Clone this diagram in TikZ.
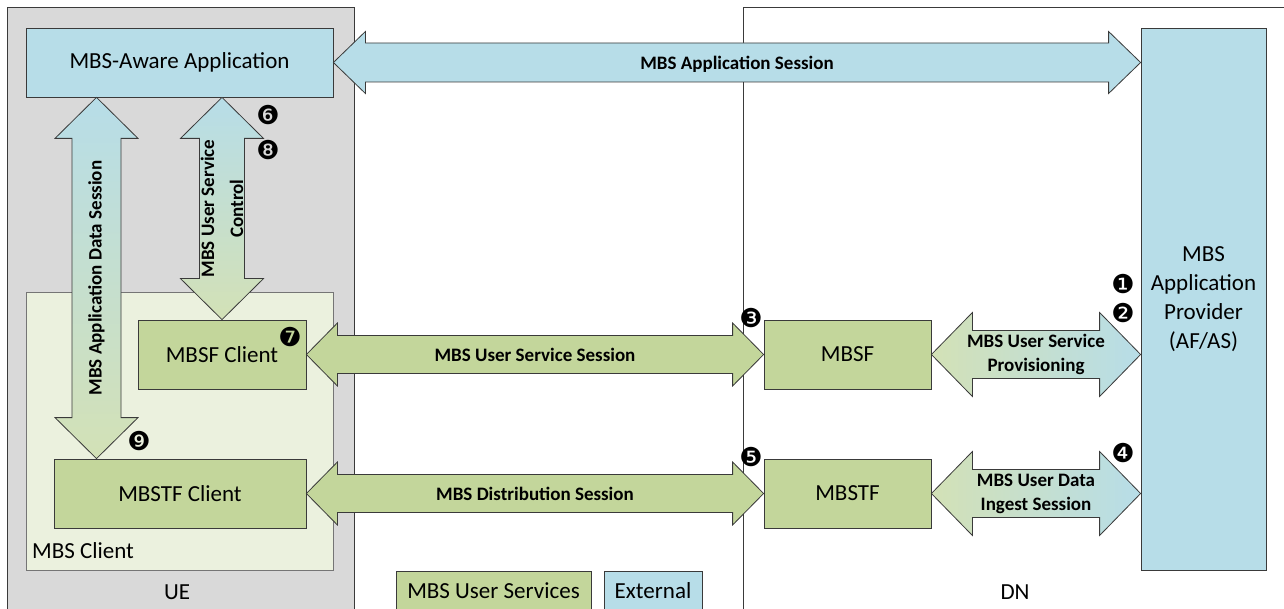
\documentclass[tikz,border=0pt]{standalone}
\usepackage{fontspec}
\setmainfont{Carlito}
\newfontfamily\badgefont{DejaVu Sans}
\usetikzlibrary{calc}
\definecolor{ueGray}{HTML}{D9D9D9}
\definecolor{extBlue}{HTML}{B7DDE8}
\definecolor{usGreen}{HTML}{C3D69B}
\definecolor{clientGreen}{HTML}{EBF1DE}
\definecolor{gradGreen}{HTML}{D3E1B6}
\definecolor{edgeCol}{HTML}{3A3A3A}
\tikzset{
  box/.style={draw=edgeCol, line width=0.8pt, inner sep=0pt, font=\fontsize{23}{29}\selectfont, align=center},
  bluebox/.style={box, fill=extBlue},
  greenbox/.style={box, fill=usGreen},
  lbl/.style={font=\bfseries\fontsize{19}{24}\selectfont, align=center, inner sep=0pt},
  plain/.style={font=\fontsize{23}{29}\selectfont, inner sep=0pt},
  badge/.style={font=\badgefont\fontsize{26}{26}\selectfont, inner sep=0pt},
  arrowline/.style={draw=edgeCol, line width=0.8pt, line join=miter},
}
% horizontal block double arrow: #1 start, #2 end, #3 shaft half, #4 head half, #5 head length, #6 style
\newcommand\hdbl[6]{%
  \path[#6] let \p1=#1, \p2=#2 in
    (\x1,\y1) -- (\x1+#5,\y1+#4) -- (\x1+#5,\y1+#3) -- (\x2-#5,\y1+#3) -- (\x2-#5,\y1+#4)
    -- (\x2,\y1) -- (\x2-#5,\y1-#4) -- (\x2-#5,\y1-#3) -- (\x1+#5,\y1-#3) -- (\x1+#5,\y1-#4) -- cycle;}
% vertical block double arrow: #1 top, #2 bottom
\newcommand\vdbl[6]{%
  \path[#6] let \p1=#1, \p2=#2 in
    (\x1,\y1) -- (\x1+#4,\y1-#5) -- (\x1+#3,\y1-#5) -- (\x1+#3,\y2+#5) -- (\x1+#4,\y2+#5)
    -- (\x1,\y2) -- (\x1-#4,\y2+#5) -- (\x1-#3,\y2+#5) -- (\x1-#3,\y1-#5) -- (\x1-#4,\y1-#5) -- cycle;}
\begin{document}
\begin{tikzpicture}[x=1pt,y=-1pt]
\useasboundingbox (0,0) rectangle (1284,609);
\clip (0,0) rectangle (1284,609);
\fill[white] (0,0) rectangle (1284,609);
% containers
\draw[draw=edgeCol, line width=0.8pt, fill=ueGray] (7,7) rectangle (354,620);
\draw[draw=edgeCol, line width=0.8pt] (743,7) rectangle (1300,620);
\draw[draw=edgeCol!70, line width=0.8pt, fill=clientGreen] (26,292) rectangle (333,570);
% nodes
\node[bluebox, minimum width=307pt, minimum height=69pt] (aware) at (179.5,62.5) {MBS-Aware Application};
\node[bluebox, minimum width=125pt, minimum height=542pt] (prov) at (1203.5,299) {MBS\\Application\\Provider\\(AF/AS)};
\node[greenbox, minimum width=168pt, minimum height=69pt] (sfc) at (222,354.5) {MBSF Client};
\node[greenbox, minimum width=252pt, minimum height=69pt] (stfc) at (180,493.5) {MBSTF Client};
\node[greenbox, minimum width=167pt, minimum height=69pt] (mbsf) at (847.5,354.5) {MBSF};
\node[greenbox, minimum width=167pt, minimum height=69pt] (mbstf) at (847.5,493.5) {MBSTF};
\node[greenbox, minimum width=195pt, minimum height=40pt] (legUS) at (493.5,591) {MBS User Services};
\node[bluebox, minimum width=98pt, minimum height=40pt] (legExt) at (653,591) {External};
\node[plain, anchor=west] (clientLbl) at (32,551) {MBS Client};
\node[plain] (ueLbl) at (177,592) {UE};
\node[plain] (dnLbl) at (1015,592) {DN};
% helper coordinates for vertical arrows
\coordinate (dsx) at (96.5,0);
% arrows
\hdbl{(aware.east)}{(aware.east -| prov.west)}{19.5pt}{31pt}{32pt}{arrowline, fill=extBlue}
\node[lbl] (appSessLbl) at ($(aware.east)!0.5!(aware.east -| prov.west)+(0,1.5)$) {MBS Application Session};
\hdbl{(sfc.east)}{(mbsf.west)}{19pt}{31.5pt}{31pt}{arrowline, fill=usGreen}
\node[lbl] (ussLbl) at ($(sfc.east)!0.5!(mbsf.west)$) {MBS User Service Session};
\hdbl{(stfc.east)}{(mbstf.west)}{19pt}{31.5pt}{31pt}{arrowline, fill=usGreen}
\node[lbl] (distLbl) at ($(stfc.east)!0.5!(mbstf.west)$) {MBS Distribution Session};
\hdbl{(mbsf.east)}{(mbsf.east -| prov.west)}{24pt}{42pt}{41pt}{arrowline, left color=gradGreen, right color=extBlue}
\node[lbl] (provLbl) at ($(mbsf.east)!0.5!(mbsf.east -| prov.west)$) {MBS User Service\\Provisioning};
\hdbl{(mbstf.east)}{(mbstf.east -| prov.west)}{24pt}{42pt}{41pt}{arrowline, left color=gradGreen, right color=extBlue}
\node[lbl] (ingLbl) at ($(mbstf.east)!0.5!(mbstf.east -| prov.west)$) {MBS User Data\\Ingest Session};
\vdbl{(aware.south -| dsx)}{(stfc.north -| dsx)}{24.5pt}{41.5pt}{41pt}{arrowline, top color=extBlue, bottom color=gradGreen}
\node[lbl, rotate=90] (dsLbl) at ($(aware.south -| dsx)!0.5!(stfc.north -| dsx)$) {MBS Application Data Session};
\vdbl{(aware.south -| sfc.north)}{(sfc.north)}{22.5pt}{41.5pt}{41pt}{arrowline, top color=extBlue, bottom color=gradGreen}
\node[lbl, rotate=90, font=\bfseries\fontsize{19}{29}\selectfont] (ctrlLbl) at ($(aware.south -| sfc.north)!0.5!(sfc.north)$) {MBS User Service\\Control};
% badges
\node[badge] (b1) at (1123,284) {❶};
\node[badge] (b2) at (1123,313) {❷};
\node[badge] (b3) at (751,318) {❸};
\node[badge] (b4) at (1123,453) {❹};
\node[badge] (b5) at (751,457) {❺};
\node[badge] (b6) at (268,115) {❻};
\node[badge] (b7) at (290,337) {❼};
\node[badge] (b8) at (268,150) {❽};
\node[badge] (b9) at (139,441) {❾};
\end{tikzpicture}
\end{document}
